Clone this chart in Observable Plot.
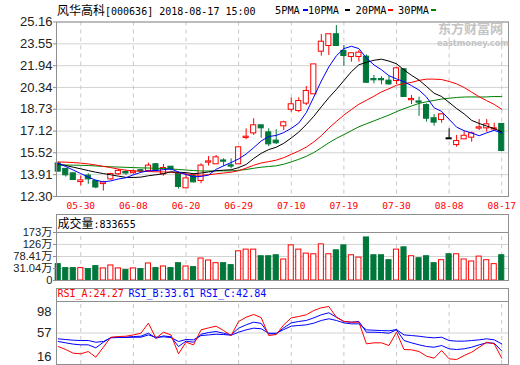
<!DOCTYPE html>
<html><head><meta charset="utf-8">
<script src="https://cdn.jsdelivr.net/npm/d3@7"></script>
<script src="https://cdn.jsdelivr.net/npm/@observablehq/plot@0.6"></script>
<style>
html,body{margin:0;padding:0;background:#fff;}
#wrap{position:relative;width:520px;height:365px;overflow:hidden;background:#fff;}
#wrap svg{position:absolute;left:0;}
.t{position:absolute;white-space:nowrap;font-family:"DejaVu Sans Mono",monospace;font-size:10px;line-height:14px;height:14px;color:#000;}
.cjk{font-family:"Noto Sans CJK SC",sans-serif;font-size:12px;}
.dash{position:absolute;height:2px;width:5px;}
.wm{position:absolute;white-space:nowrap;color:#c4c4c4;font-weight:bold;overflow:visible;}
</style></head><body><div id="wrap"></div>
<script>
// ---- data ----
const dates = ["05-25","05-28","05-29","05-30","05-31","06-01","06-04","06-05","06-06","06-07","06-08","06-11","06-12","06-13","06-14","06-15","06-19","06-20","06-21","06-22","06-25","06-26","06-27","06-28","06-29","07-02","07-03","07-04","07-05","07-06","07-09","07-10","07-11","07-12","07-13","07-16","07-17","07-18","07-19","07-20","07-23","07-24","07-25","07-26","07-27","07-30","07-31","08-01","08-02","08-03","08-06","08-07","08-08","08-09","08-10","08-13","08-14","08-15","08-16","08-17"];
const dateLabels = ["05-30","06-08","06-20","06-29","07-10","07-19","07-30","08-08","08-17"];
const open  = [14.70,14.30,13.97,13.40,13.80,13.41,13.25,13.60,13.98,14.07,14.05,14.20,14.22,14.64,13.97,14.46,13.92,12.94,13.77,13.48,14.83,14.71,14.92,14.56,14.71,16.65,16.99,17.51,16.99,16.38,17.51,18.73,18.64,19.18,19.87,23.01,23.43,24.22,22.99,22.62,22.62,22.57,20.92,20.92,20.80,20.85,21.64,19.43,19.27,19.00,18.03,17.97,16.55,16.13,16.55,16.67,17.34,17.36,17.27,17.61];
const high  = [14.85,14.35,14.02,13.80,13.97,13.45,13.42,14.02,14.30,14.22,14.25,14.30,14.76,14.72,14.66,14.50,14.09,13.97,13.97,14.71,15.25,15.32,15.08,15.08,15.95,17.29,18.03,17.51,17.29,17.22,17.85,19.57,19.57,20.41,22.00,24.24,24.22,24.90,23.43,22.86,23.06,22.74,21.22,21.12,21.14,21.83,21.71,19.74,19.62,19.13,18.34,18.39,17.29,16.80,17.10,17.04,17.97,17.97,17.70,17.66];
const low   = [14.10,13.73,13.48,13.06,13.20,12.87,12.70,13.50,13.85,13.85,13.95,14.05,14.10,14.15,13.80,14.20,12.85,12.87,13.30,13.24,14.54,14.66,14.51,14.34,14.65,16.48,16.80,16.60,15.98,16.13,17.16,18.51,18.47,19.00,19.85,22.64,22.69,23.35,21.90,22.20,22.20,20.65,20.60,20.53,20.48,20.55,19.62,19.08,18.20,17.78,17.48,17.70,16.55,15.93,16.50,16.30,17.16,17.04,17.16,15.62];
const close = [14.17,13.90,13.55,13.45,13.60,13.00,13.30,13.92,14.15,14.03,14.10,14.18,14.54,14.22,14.36,14.36,13.04,13.60,13.38,14.54,14.85,15.15,14.90,14.54,15.89,16.67,17.51,17.36,16.18,16.26,17.73,19.06,19.30,20.04,22.00,23.67,24.22,23.43,22.69,22.82,22.86,20.72,20.90,20.90,20.60,21.71,19.67,19.45,19.25,18.07,17.78,18.32,16.55,16.35,16.74,16.92,17.36,17.58,17.29,15.69];
const ma5  = [14.73,14.51,14.25,13.99,13.73,13.50,13.38,13.45,13.59,13.68,13.90,14.08,14.20,14.21,14.28,14.33,14.10,13.92,13.75,13.78,13.88,14.30,14.56,14.80,15.07,15.43,15.90,16.39,16.72,16.80,17.01,17.32,17.71,18.48,19.63,20.81,21.85,22.67,23.20,23.37,23.20,22.50,22.00,21.64,21.20,20.97,20.76,20.47,20.14,19.63,18.84,18.57,17.99,17.41,17.15,16.98,16.78,16.99,17.18,16.97];
const ma10 = [14.70,14.58,14.46,14.34,14.21,14.09,13.99,13.90,13.80,13.71,13.70,13.73,13.83,13.90,13.98,14.12,14.09,14.06,13.98,14.03,14.11,14.20,14.24,14.27,14.43,14.66,15.10,15.48,15.76,15.93,16.22,16.61,17.05,17.60,18.21,18.91,19.58,20.19,20.84,21.50,22.01,22.18,22.34,22.42,22.28,22.08,21.63,21.23,20.88,20.41,19.91,19.67,19.23,18.78,18.39,17.91,17.68,17.49,17.30,17.06];
const ma20 = [14.84,14.83,14.80,14.76,14.70,14.62,14.52,14.43,14.32,14.24,14.19,14.16,14.14,14.12,14.11,14.09,14.03,13.96,13.90,13.87,13.90,13.97,14.03,14.09,14.20,14.39,14.60,14.77,14.87,14.98,15.16,15.41,15.65,15.94,16.32,16.78,17.34,17.83,18.30,18.71,19.10,19.39,19.69,20.01,20.24,20.50,20.61,20.71,20.86,20.95,20.95,20.92,20.78,20.60,20.33,19.99,19.65,19.36,19.09,18.73];
const ma30 = [14.62,14.62,14.61,14.60,14.58,14.55,14.52,14.49,14.47,14.45,14.43,14.41,14.40,14.38,14.36,14.33,14.29,14.25,14.21,14.18,14.18,14.19,14.19,14.19,14.23,14.29,14.38,14.46,14.51,14.56,14.68,14.85,15.04,15.26,15.54,15.89,16.26,16.58,16.86,17.15,17.44,17.66,17.87,18.09,18.30,18.55,18.77,18.97,19.16,19.28,19.38,19.48,19.54,19.60,19.63,19.64,19.63,19.64,19.67,19.66];
const volume = [48.2,32.6,32.6,32.6,28.7,40.4,31.4,43.0,31.4,24.8,31.4,28.7,50.9,32.6,39.0,32.6,52.0,39.0,36.5,70.4,62.6,52.0,52.0,44.3,98.9,105.5,105.5,79.4,79.4,83.3,66.5,122.3,105.5,89.9,87.2,126.2,87.2,102.8,122.3,83.3,74.0,153.5,83.3,83.3,63.8,105.5,114.5,79.4,71.6,79.4,52.0,63.8,87.2,87.2,66.5,58.7,78.0,63.8,48.2,83.37];
const rsiA = [39.4,35.5,30.7,29.9,32.9,25.5,38.5,51.5,52.4,52.8,54.5,56.7,69.8,50.2,58.0,54.5,29.9,45.0,41.6,61.1,63.7,65.9,60.2,53.7,72.0,77.6,81.1,77.0,53.7,55.0,67.6,76.7,78.5,80.7,86.3,89.8,91.5,77.6,72.0,71.1,71.1,42.9,44.2,44.2,40.7,58.0,35.5,35.1,32.9,26.8,24.2,34.2,23.4,22.5,27.7,32.0,38.5,45.0,42.9,24.27];
const rsiB = [45.9,44.2,42.5,41.6,41.6,37.7,45.0,51.1,51.5,51.5,52.4,52.8,56.7,50.2,53.2,52.0,39.4,46.4,45.0,55.4,57.6,58.9,56.7,54.5,63.3,67.6,71.1,69.5,55.9,55.9,63.7,70.2,72.0,73.3,76.7,80.7,83.3,77.6,72.0,71.1,72.0,58.0,58.0,57.6,56.7,61.1,47.2,44.2,41.6,39.4,38.5,40.7,36.4,35.5,36.4,38.5,41.6,44.2,43.7,33.61];
const rsiC = [49.4,48.5,47.6,47.2,47.2,45.0,45.9,50.7,51.1,51.1,51.5,51.5,54.5,51.5,52.0,51.1,45.9,48.5,48.1,53.7,54.5,55.4,55.0,54.1,58.0,61.1,63.3,62.5,56.7,56.7,61.5,65.9,66.8,67.6,69.8,73.3,75.5,73.3,70.2,68.9,68.9,61.1,60.6,60.2,59.8,61.5,54.5,53.7,52.8,51.5,50.7,51.5,47.2,46.4,46.4,47.2,48.1,49.4,48.1,42.84];
const priceTicks = [25.16,23.55,21.94,20.34,18.73,17.12,15.52,13.91,12.30];
const volTickValues = [-16.3,31.04,78.41,126,173];
const volTickLabels = ["0","31.04万","78.41万","126万","173万"];
const rsiTicks = [16,57,98];
const title = "风华高科";
const titleRest = "[000636] 2018-08-17 15:00";
const volHeader = ["成交量", ":833655"];
const rsiHeader = [["RSI_A:24.27","#ff0000"],["RSI_B:33.61","#0000ff"],["RSI_C:42.84","#0000ff"]];
const maLegend = [["5PMA","#0000ff"],["10PMA","#000000"],["20PMA","#ff0000"],["30PMA","#008000"]];

// ---- build ----
const RED = "#ff0000", GREEN = "#00773a", GRID = "#d2d2d2", BORDER = "#8f8f8f";
const dateIdx = dateLabels.map(l => dates.indexOf(l));
const bars = dates.map((d, i) => ({i, o: open[i], h: high[i], l: low[i], c: close[i], v: volume[i],
  dir: close[i] > open[i] ? 1 : close[i] < open[i] ? -1 : 0}));
const candleColor = d => d.dir > 0 ? RED : d.dir < 0 ? GREEN : "#000";
const volColor = d => d.dir > 0 ? RED : GREEN;
const half = 0.34;
const xScale = {type: "linear", domain: [-0.23, 59.9]};
const common = {width: 520, marginLeft: 56, marginRight: 12, style: {background: "transparent", overflow: "visible"}};
const tickFont = {fontSize: 13, fontFamily: "'Liberation Sans', Arial, 'Noto Sans CJK SC', sans-serif", fill: "#222", stroke: BORDER};

const wrap = document.getElementById("wrap");

const mainPlot = Plot.plot({
  ...common, height: 214, marginTop: 21.5, marginBottom: 18,
  x: xScale,
  y: {domain: [priceTicks[priceTicks.length - 1], priceTicks[0]]},
  marks: [
    Plot.ruleY(priceTicks, {stroke: GRID}),
    Plot.ruleX(dateIdx, {stroke: "#c8c8c8", strokeDasharray: "4,4"}),
    Plot.ruleX(bars, {x: "i", y1: "l", y2: "h", stroke: candleColor}),
    Plot.rect(bars, {x1: d => d.i - half, x2: d => d.i + half, y1: "o", y2: "c",
      fill: d => d.dir > 0 ? "#fff" : candleColor(d), stroke: candleColor, insetTop: -0.5, insetBottom: -0.5}),
    Plot.line(ma30, {x: (d, i) => i, y: d => d, stroke: "#008000", strokeWidth: 1}),
    Plot.line(ma20, {x: (d, i) => i, y: d => d, stroke: "#ff0000", strokeWidth: 1}),
    Plot.line(ma10, {x: (d, i) => i, y: d => d, stroke: "#000000", strokeWidth: 1}),
    Plot.line(ma5, {x: (d, i) => i, y: d => d, stroke: "#0000ff", strokeWidth: 1}),
    Plot.frame({stroke: BORDER}),
    Plot.axisY(priceTicks, {tickSize: 3, tickPadding: 1, tickFormat: d => d.toFixed(2), label: null, ...tickFont}),
    Plot.axisX(dateIdx, {tickSize: 0, tickPadding: 6, tickFormat: i => dates[i], label: null,
      fontSize: 9.5, fontFamily: "'DejaVu Sans Mono', monospace", fill: RED})
  ]
});
mainPlot.style.top = "0px";
wrap.appendChild(mainPlot);

const volMin = volTickValues[0], volMax = volTickValues[volTickValues.length - 1];
const volLabel = new Map(volTickValues.map((v, i) => [v, volTickLabels[i]]));
const volPlot = Plot.plot({
  ...common, height: 68, marginTop: 0, marginBottom: 2,
  x: {...xScale, axis: null},
  y: {domain: [volMin, volMax], range: [66, 18]},
  marks: [
    Plot.ruleY(volTickValues.slice(1, -1), {stroke: GRID}),
    Plot.ruleX(dateIdx, {y1: volMin, y2: volMax, stroke: "#c8c8c8", strokeDasharray: "4,4"}),
    Plot.rect(bars, {x1: d => d.i - half, x2: d => d.i + half, y1: () => volMin, y2: "v",
      fill: d => d.dir > 0 ? "#fff" : volColor(d), stroke: volColor}),
    Plot.ruleY([volMax], {stroke: BORDER}),
    Plot.frame({stroke: BORDER}),
    Plot.axisY(volTickValues, {tickSize: 3, tickPadding: 1, tickFormat: d => volLabel.get(d), label: null, ...tickFont, fontSize: 11.2})
  ]
});
volPlot.style.top = "214px";
wrap.appendChild(volPlot);

const rsiPlot = Plot.plot({
  ...common, height: 77, marginTop: 0, marginBottom: 1,
  x: {...xScale, axis: null},
  y: {domain: [rsiTicks[0], rsiTicks[2]], range: [76, 13], axis: null},
  marks: [
    Plot.ruleY([rsiTicks[1]], {stroke: GRID}),
    Plot.ruleX(dateIdx, {y1: rsiTicks[0], y2: rsiTicks[2], stroke: "#c8c8c8", strokeDasharray: "4,4"}),
    Plot.line(rsiC, {x: (d, i) => i, y: d => d, stroke: "#0000ff", strokeWidth: 1}),
    Plot.line(rsiB, {x: (d, i) => i, y: d => d, stroke: "#0000ff", strokeWidth: 1}),
    Plot.line(rsiA, {x: (d, i) => i, y: d => d, stroke: "#ff0000", strokeWidth: 1}),
    Plot.ruleY([rsiTicks[2]], {stroke: BORDER}),
    Plot.frame({stroke: BORDER}),
    Plot.text([rsiTicks[2]], {y: d => d, text: d => String(d), frameAnchor: "left", textAnchor: "end", dx: -5, dy: 10, ...tickFont, stroke: null}),
    Plot.text([rsiTicks[1]], {y: d => d, text: d => String(d), frameAnchor: "left", textAnchor: "end", dx: -5, dy: 0, ...tickFont, stroke: null}),
    Plot.text([rsiTicks[0]], {y: d => d, text: d => String(d), frameAnchor: "left", textAnchor: "end", dx: -5, dy: -8, ...tickFont, stroke: null})
  ]
});
rsiPlot.style.top = "288px";
wrap.appendChild(rsiPlot);

// ---- header texts & legend ----
function addDiv(cls, left, top, html, style) {
  const el = document.createElement("div");
  el.className = cls;
  el.style.left = left + "px";
  el.style.top = top + "px";
  if (style) Object.assign(el.style, style);
  el.innerHTML = html;
  wrap.appendChild(el);
  return el;
}
addDiv("t", 57, 2.5, `<span class="cjk">${title}</span>${titleRest}`);
const legendX = [275, 308, 355.5, 398];
const dashX = [302.5, 344.5, 387.5, 430.5];
maLegend.forEach(([label, color], k) => {
  addDiv("t", legendX[k], 2.5, label, {fontSize: "10.3px"});
  addDiv("dash", dashX[k], 9, "", {background: color});
});
addDiv("wm", 438, 20.5, "东方财富网", {fontFamily: "'Noto Sans CJK SC', sans-serif", fontSize: "13px", lineHeight: "14px", height: "14px"});
addDiv("wm", 437, 39, "eastmoney.com", {fontFamily: "'DejaVu Sans', sans-serif", fontSize: "8.3px", lineHeight: "8px", height: "8px", letterSpacing: "-0.1px"});
addDiv("t", 57.5, 216, `<span class="cjk">${volHeader[0]}</span>${volHeader[1]}`);
const rsiX = [57.5, 128.5, 200];
rsiHeader.forEach(([label, color], k) => addDiv("t", rsiX[k], 286.5, label, {color}));
</script></body></html>
